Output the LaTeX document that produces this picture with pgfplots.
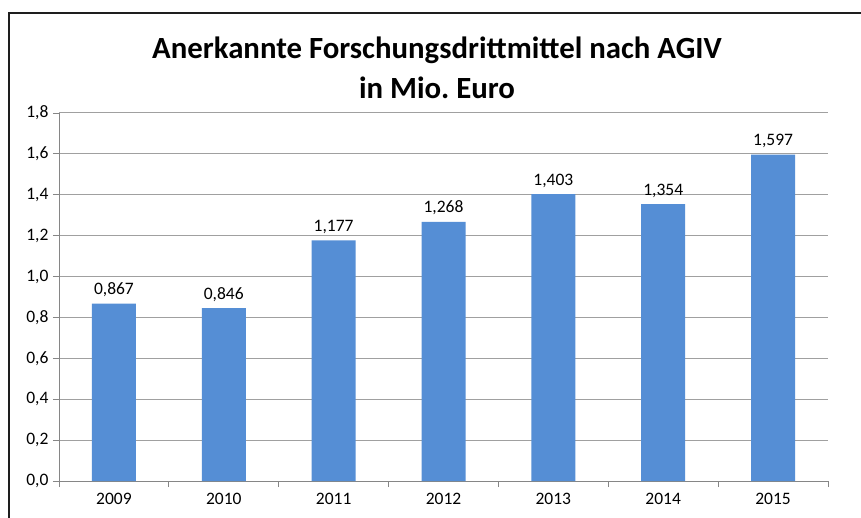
\documentclass[border=0pt]{standalone}
\usepackage{pgfplots}
\pgfplotsset{compat=1.18}
\usepackage{fontspec}
\setmainfont{Carlito}
\frenchspacing
\definecolor{barblue}{RGB}{85,142,213}
\definecolor{gridgray}{RGB}{160,160,160}
\definecolor{axisgray}{RGB}{134,134,134}
\begin{document}
\begin{tikzpicture}
\useasboundingbox (0,0) rectangle (861pt,517pt);
\fill[white] (0,0) rectangle (861pt,517pt);
\draw[line width=2pt, color={rgb,255:red,30;green,30;blue,30}] (9pt,-5pt) -- (9pt,504pt) -- (875pt,504pt);
\node[align=center, font=\fontsize{30.8}{40}\selectfont\bfseries] at (437pt,449pt) {Anerkannte Forschungsdrittmittel nach AGIV\\in Mio.\ Euro};
\begin{axis}[
  at={(59pt,36pt)}, anchor=south west,
  scale only axis, width=769pt, height=368pt,
  ybar, bar width=44pt,
  xmin=-0.5, xmax=6.5, ymin=0, ymax=1.8,
  ytick={0,0.2,...,1.8},
  xtick={0,...,6},
  xticklabels={2009,2010,2011,2012,2013,2014,2015},
  minor xtick={-0.5,0.5,...,6.5},
  axis x line*=bottom, axis y line*=left,
  axis line style={draw=axisgray, line width=0.8pt, -},
  ymajorgrids, grid style={draw=gridgray, line width=1pt},
  major x tick style={draw=none},
  minor x tick style={draw=axisgray, line width=0.8pt},
  major y tick style={draw=axisgray, line width=0.8pt},
  tick align=outside, major tick length=6pt, minor tick length=6pt,
  ticklabel style={font=\fontsize{17.5}{20}\selectfont},
  y tick label style={xshift=-1pt, /pgf/number format/fixed, /pgf/number format/fixed zerofill, /pgf/number format/precision=1, /pgf/number format/use comma},
  x tick label style={yshift=-3pt},
  /pgf/number format/assume math mode=true,
  nodes near coords,
  nodes near coords style={font=\fontsize{17.5}{20}\selectfont, color=black, yshift=3pt, /pgf/number format/fixed, /pgf/number format/fixed zerofill, /pgf/number format/precision=3, /pgf/number format/use comma},
  clip=false,
]
\addplot[fill=barblue, draw=none] coordinates {(0,0.867) (1,0.846) (2,1.177) (3,1.268) (4,1.403) (5,1.354) (6,1.597)};
\end{axis}
\end{tikzpicture}
\end{document}
